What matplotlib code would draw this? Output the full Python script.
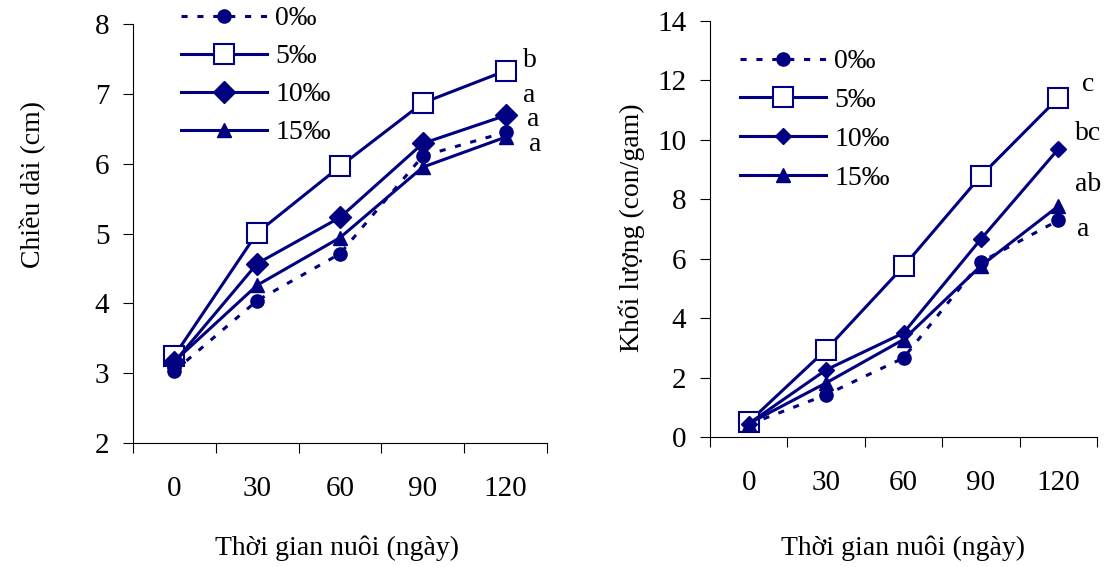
import matplotlib.pyplot as plt

# =============================================================================
#  Data
# =============================================================================
days = ["0", "30", "60", "90", "120"]
labels = ["0‰", "5‰", "10‰", "15‰"]

length_0 = [3.03, 4.04, 4.71, 6.11, 6.45]
length_5 = [3.25, 5.01, 5.96, 6.87, 7.33]
length_10 = [3.16, 4.57, 5.23, 6.29, 6.69]
length_15 = [3.17, 4.26, 4.94, 5.95, 6.38]
length_letters = ["a", "b", "a", "a"]

mass_0 = [0.42, 1.42, 2.66, 5.89, 7.29]
mass_5 = [0.50, 2.94, 5.74, 8.79, 11.41]
mass_10 = [0.45, 2.26, 3.50, 6.66, 9.69]
mass_15 = [0.45, 1.82, 3.28, 5.76, 7.77]
mass_letters = ["a", "c", "bc", "ab"]

# =============================================================================
#  Style
# =============================================================================
plt.rcParams["font.family"] = "Liberation Serif"
plt.rcParams["font.size"] = 20
NAVY = "#000080"

fig = plt.figure(figsize=(11.08, 5.67), dpi=100)
ax1 = fig.add_axes([133 / 1108, 1 - 443 / 567, 414 / 1108, 419 / 567])
ax2 = fig.add_axes([710 / 1108, 1 - 437 / 567, 387 / 1108, 416 / 567])

x = list(range(len(days)))


def draw(ax, series, diamond_size, ylim, yticks, letters, letter_pos,
         legend_anchor, spacing):
    s0, s5, s10, s15 = series
    ax.plot(x, s0, color=NAVY, lw=2.2, dashes=(2, 3.2), marker="o", ms=9.5,
            label=labels[0])
    ax.plot(x, s5, color=NAVY, lw=2.2, marker="s", ms=14, mfc="white",
            mec=NAVY, mew=1.5, label=labels[1])
    ax.plot(x, s10, color=NAVY, lw=2.2, marker="D", ms=diamond_size,
            label=labels[2])
    ax.plot(x, s15, color=NAVY, lw=2.2, marker="^", ms=9.5, label=labels[3])

    ax.set_xlim(-0.5, len(days) - 0.5)
    ax.set_ylim(*ylim)
    ax.set_yticks(yticks)
    ax.set_xticks([i - 0.5 for i in range(len(days) + 1)])
    ax.set_xticklabels([])
    ax.set_xticks(x, minor=True)
    ax.set_xticklabels(days, minor=True)
    ax.tick_params(axis="x", which="major", direction="out", length=7, width=0.8)
    ax.tick_params(axis="x", which="minor", length=0, pad=24, labelsize=21)
    ax.tick_params(axis="y", direction="out", length=7, width=0.8, pad=10,
                   labelsize=21)
    for side in ("top", "right"):
        ax.spines[side].set_visible(False)
    for side in ("left", "bottom"):
        ax.spines[side].set_linewidth(0.8)

    for txt, (lx, ly) in zip(letters, letter_pos):
        ax.text(lx, ly, txt, ha="center", va="center", clip_on=False)

    ax.legend(loc="upper left", bbox_to_anchor=legend_anchor,
              bbox_transform=fig.transFigure, frameon=False, borderpad=0,
              borderaxespad=0, handlelength=3.1, handletextpad=0.3,
              labelspacing=spacing)


draw(ax1, [length_0, length_5, length_10, length_15], 11, (2, 8),
     range(2, 9), length_letters,
     [(4.36, 6.27), (4.29, 7.48), (4.28, 6.98), (4.33, 6.63)],
     (181 / 1108, 1 - 6 / 567), 0.45)
draw(ax2, [mass_0, mass_5, mass_10, mass_15], 8, (0, 14),
     range(0, 15, 2), mass_letters,
     [(4.32, 6.98), (4.39, 11.85), (4.39, 10.20), (4.38, 8.51)],
     (740 / 1108, 1 - 49 / 567), 0.48)

fig.text(33 / 1108, 1 - 185 / 567, "Chiều dài (cm)", rotation=90,
         ha="center", va="center")
fig.text(632 / 1108, 1 - 228 / 567, "Khối lượng (con/gam)", rotation=90,
         ha="center", va="center")
fig.text(337 / 1108, 1 - 548 / 567, "Thời gian nuôi (ngày)",
         ha="center", va="center")
fig.text(903 / 1108, 1 - 548 / 567, "Thời gian nuôi (ngày)",
         ha="center", va="center")

fig.savefig("out.png", dpi=100)
